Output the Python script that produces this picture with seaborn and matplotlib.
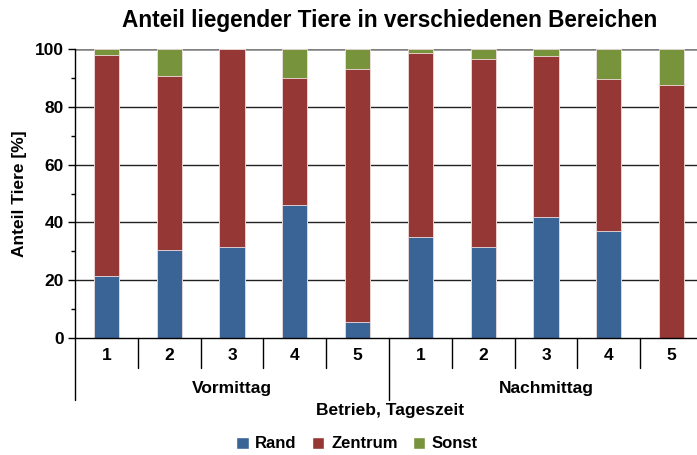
import matplotlib
matplotlib.use("Agg")
import matplotlib.pyplot as plt
import matplotlib.transforms as mtransforms
from matplotlib.patches import Patch
import seaborn as sns
import pandas as pd
import numpy as np

# ---- data ----
groups = ["Vormittag", "Nachmittag"]
betriebe = ["1", "2", "3", "4", "5"]
rand = [21.5, 30.5, 31.5, 46.0, 5.5, 35.0, 31.5, 42.0, 37.0, 0.0]
zentrum = [76.5, 60.0, 68.5, 44.0, 87.5, 63.7, 64.9, 55.5, 52.5, 87.6]
sonst = [2.0, 9.5, 0.0, 10.0, 7.0, 1.3, 3.6, 2.5, 10.5, 12.4]
yticks = [0, 20, 40, 60, 80, 100]

sns.set_theme(style="white")
plt.rcParams["font.family"] = ["Liberation Sans", "DejaVu Sans"]
plt.rcParams["text.color"] = "black"
plt.rcParams["axes.labelcolor"] = "black"
plt.rcParams["ytick.color"] = "black"
plt.rcParams["ytick.labelcolor"] = "black"

keys = [f"{g}-{b}" for g in groups for b in betriebe]
df = pd.DataFrame({"key": keys, "rand": rand, "zentrum": zentrum, "sonst": sonst})
df["rz"] = df["rand"] + df["zentrum"]
df["total"] = df["rz"] + df["sonst"]

c_rand = "#3A6496"
c_zent = "#953735"
c_sonst = "#77933C"

fs = 12.5

fig = plt.figure(figsize=(6.97, 4.55), dpi=100)
ax = fig.add_axes([75 / 697, 117 / 455, 628 / 697, 289 / 455])

ax.set_ylim(0, 100)
for yv in yticks[1:]:
    ax.axhline(yv, color="#222222" if yv < 100 else "#808080", lw=1.0 if yv < 100 else 1.8, zorder=0)

common = dict(x="key", order=keys, ax=ax, width=0.4, edgecolor="#f0e0e0", linewidth=0.6, zorder=2)
sns.barplot(data=df, y="total", color=c_sonst, saturation=1, **common)
sns.barplot(data=df, y="rz", color=c_zent, saturation=1, **common)
sns.barplot(data=df, y="rand", color=c_rand, saturation=1, **common)
ax.set_xlim(-0.5, 9.5)
ax.set_ylim(0, 100)

for s in ["top", "right", "bottom"]:
    ax.spines[s].set_visible(False)
ax.spines["left"].set_color("black")
ax.spines["left"].set_linewidth(1.0)

ax.set_yticks(yticks)
ax.set_yticks([10, 30, 50, 70, 90], minor=True)
ax.tick_params(axis="y", which="both", direction="out", left=True, length=5, width=1, color="black",
               labelsize=fs, pad=3, labelcolor="black")
ax.tick_params(axis="y", which="minor", length=3)
for lbl in ax.get_yticklabels():
    lbl.set_fontweight("bold")
ax.set_xticks([])
ax.set_xlabel("")
ax.set_ylabel("Anteil Tiere [%]", fontsize=fs, fontweight="bold", labelpad=6, color="black")

# category axis
trans = mtransforms.blended_transform_factory(ax.transData, ax.transAxes)
ax.plot([-0.5, 9.5], [0, 0], transform=trans, color="black", lw=1.0, clip_on=False, zorder=3)
for i in range(11):
    xpos = i - 0.5
    bottom = -62 / 289 if i in (0, 5, 10) else -30 / 289
    ax.plot([xpos, xpos], [0, bottom], transform=trans, color="black", lw=1.0, clip_on=False)
for i, k in enumerate(keys):
    ax.text(i, -17 / 289, betriebe[i % 5], transform=trans, ha="center", va="center",
            fontsize=fs, fontweight="bold", color="black")
for gi, g in enumerate(groups):
    ax.text(gi * 5 + 2, -50 / 289, g, transform=trans, ha="center", va="center",
            fontsize=fs, fontweight="bold", color="black")
fig.text(390 / 697, 1 - 410 / 455, "Betrieb, Tageszeit", ha="center", va="center",
         fontsize=fs, fontweight="bold", color="black")

fig.text(390 / 697, 1 - 20 / 455, "Anteil liegender Tiere in verschiedenen Bereichen",
         ha="center", va="center", fontsize=16.3, fontweight="bold", color="black")

handles = [Patch(facecolor=c_rand, label="Rand"), Patch(facecolor=c_zent, label="Zentrum"),
           Patch(facecolor=c_sonst, label="Sonst")]
leg = fig.legend(handles=handles, loc="center", bbox_to_anchor=(357 / 697, 1 - 444 / 455), ncol=3,
                 frameon=False, handlelength=0.75, handleheight=0.75, handletextpad=0.4,
                 columnspacing=0.9, prop={"size": 12, "weight": "bold"}, labelcolor="black")

fig.savefig("out.png", dpi=100)
